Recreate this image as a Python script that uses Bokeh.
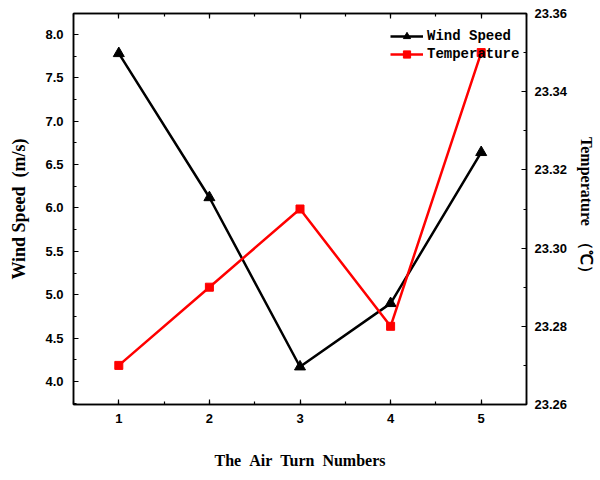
from bokeh.plotting import figure
from bokeh.models import (ColumnDataSource, Range1d, LinearAxis, SingleIntervalTicker,
                          Legend, LegendItem, NumeralTickFormatter)
from bokeh.embed import file_html
from bokeh.resources import INLINE

# data
air_turns = [1, 2, 3, 4, 5]
wind_speed = [7.78, 6.12, 4.17, 4.90, 6.64]
temperature = [23.27, 23.29, 23.31, 23.28, 23.35]

NB = "\u00a0"
x_label = f"The{NB}{NB}Air{NB}{NB}Turn{NB}{NB}Numbers"
y_label = f"Wind{NB}Speed{NB}{NB}(m/s)"
y2_label = f"Temperature{NB}{NB}（℃）"

src = ColumnDataSource(dict(x=air_turns, ws=wind_speed, t=temperature))

W, H = 600, 480
p = figure(width=W, height=H, output_backend="svg", toolbar_location=None,
           x_range=Range1d(0.5, 5.5), y_range=Range1d(3.735, 8.24),
           min_border_left=73, min_border_right=74, min_border_top=13, min_border_bottom=76)
p.extra_y_ranges = {"temp": Range1d(23.26, 23.36)}
p.xgrid.visible = False
p.ygrid.visible = False
p.outline_line_color = "black"
p.outline_line_width = 1.5
p.background_fill_color = "white"
p.border_fill_color = "white"

tick_font = "Liberation Sans"
label_font = "Liberation Serif"

def style_axis(ax):
    ax.axis_line_color = "black"
    ax.axis_line_width = 1.5
    ax.major_tick_in = 5
    ax.major_tick_out = 0
    ax.minor_tick_in = 3
    ax.minor_tick_out = 0
    ax.major_tick_line_color = "black"
    ax.minor_tick_line_color = "black"
    ax.major_tick_line_width = 1.2
    ax.minor_tick_line_width = 1.2
    ax.major_label_text_font = tick_font
    ax.major_label_text_font_style = "bold"
    ax.major_label_text_font_size = "13px"
    ax.major_label_text_color = "black"
    ax.axis_label_text_font = label_font
    ax.axis_label_text_font_style = "bold"
    ax.axis_label_text_font_size = "18px"
    ax.axis_label_text_color = "black"

# bottom axis
xa = p.xaxis[0]
xa.ticker = SingleIntervalTicker(interval=1, num_minor_ticks=2)
xa.axis_label = x_label
style_axis(xa)
xa.axis_label_text_font_size = "16px"
xa.major_label_standoff = 9
xa.axis_label_standoff = 26

# left axis
ya = p.yaxis[0]
ya.ticker = SingleIntervalTicker(interval=0.5, num_minor_ticks=2)
ya.formatter = NumeralTickFormatter(format="0.0")
ya.axis_label = y_label
style_axis(ya)
ya.major_label_standoff = 10
ya.axis_label_standoff = 13

# right axis
ra = LinearAxis(y_range_name="temp",
                ticker=SingleIntervalTicker(interval=0.02, num_minor_ticks=2),
                formatter=NumeralTickFormatter(format="0.00"),
                axis_label=y2_label)
style_axis(ra)
ra.axis_label_text_font_size = "16px"
ra.major_label_standoff = 8
ra.axis_label_standoff = 8
p.add_layout(ra, "right")

# top axis (ticks only)
ta = LinearAxis(ticker=SingleIntervalTicker(interval=1, num_minor_ticks=2))
style_axis(ta)
ta.major_label_overrides = {i: "" for i in air_turns}
ta.major_label_standoff = 0
p.add_layout(ta, "above")

# series
l1 = p.line("x", "ws", source=src, line_color="black", line_width=2.5)
m1 = p.scatter("x", "ws", source=src, marker="triangle", size=11,
               fill_color="black", line_color="black")
l2 = p.line("x", "t", source=src, y_range_name="temp", line_color="#ff0000", line_width=2.5)
m2 = p.scatter("x", "t", source=src, y_range_name="temp", marker="square", size=8,
               fill_color="#ff0000", line_color="#ff0000")

legend = Legend(items=[LegendItem(label="Wind Speed", renderers=[l1, m1]),
                       LegendItem(label="Temperature", renderers=[l2, m2])],
                location=(317, 341), orientation="vertical")
legend.background_fill_alpha = 0
legend.border_line_alpha = 0
legend.padding = 0
legend.margin = 0
legend.spacing = 0
legend.glyph_width = 33
legend.glyph_height = 18
legend.label_height = 18
legend.label_standoff = 4
legend.label_text_font = "Liberation Mono"
legend.label_text_font_style = "bold"
legend.label_text_font_size = "14px"
legend.label_text_color = "black"
p.add_layout(legend, "center")

open("out.html", "w").write(file_html(p, INLINE))
